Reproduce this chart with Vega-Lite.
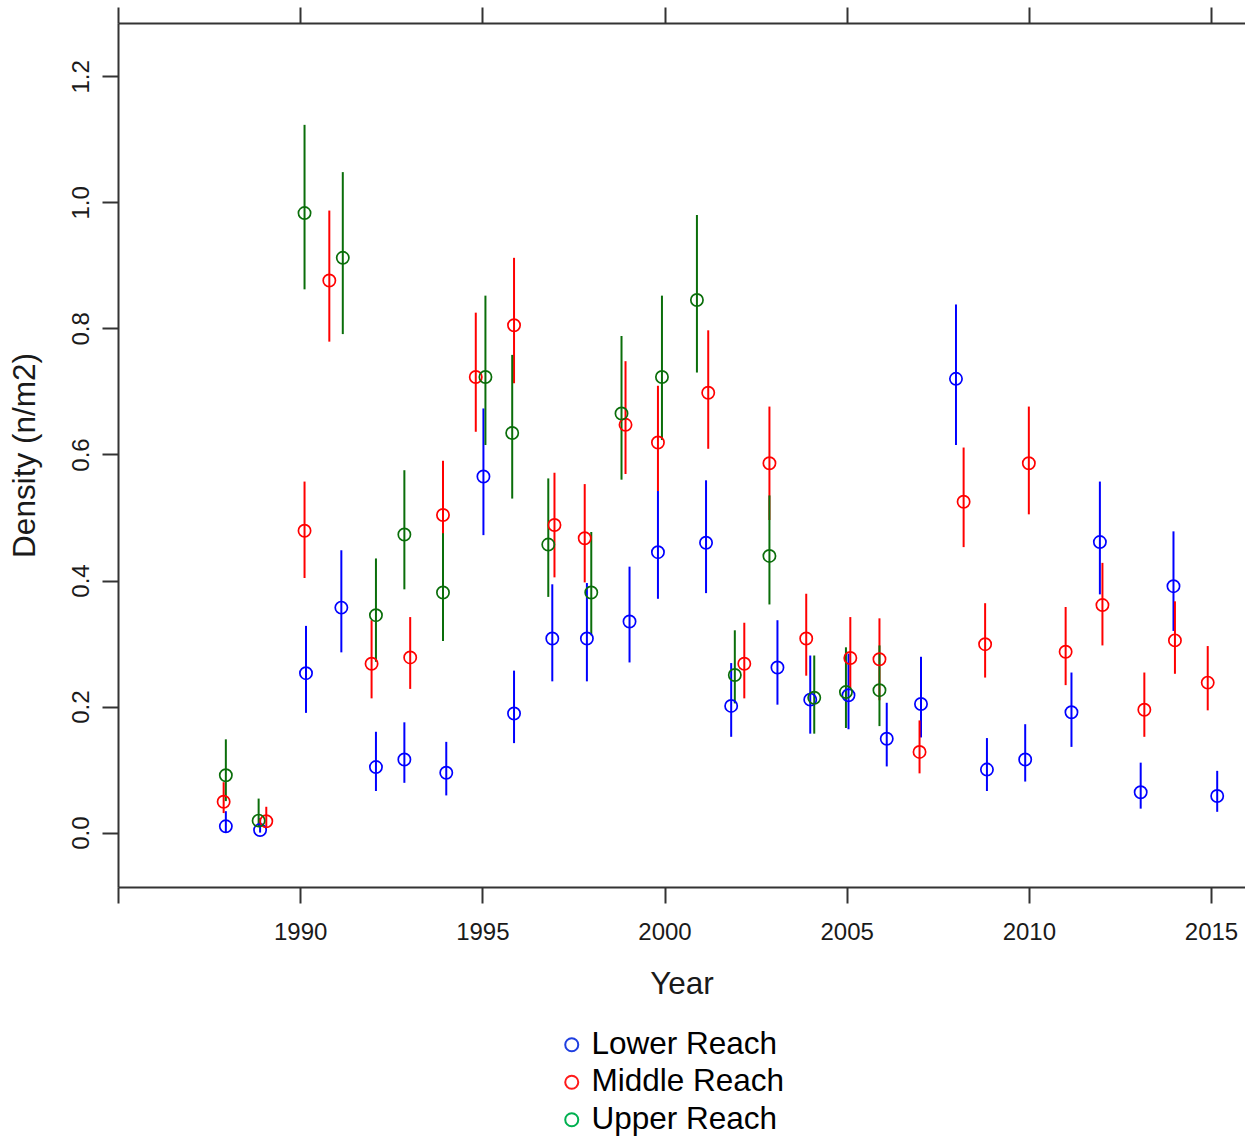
{
  "$schema": "https://vega.github.io/schema/vega-lite/v6.json",
  "width": 1127,
  "height": 864,
  "autosize": "none",
  "padding": {"left": 118, "top": 23, "right": 0, "bottom": 252},
  "background": "white",
  "config": {
    "view": {"stroke": null},
    "font": "Liberation Sans",
    "axis": {
      "domainColor": "#333333",
      "domainWidth": 2,
      "tickColor": "#333333",
      "tickWidth": 2,
      "tickSize": 16,
      "grid": false,
      "labelFont": "Liberation Sans",
      "labelFontSize": 24,
      "labelColor": "#1a1a1a",
      "titleFont": "Liberation Sans",
      "titleFontSize": 31.5,
      "titleFontWeight": "normal",
      "titleColor": "#1a1a1a"
    }
  },
  "data": {
    "values": [
      {"series": "Lower Reach", "year": 1987.96, "d": 0.010, "lo": 0.000, "hi": 0.034},
      {"series": "Lower Reach", "year": 1988.90, "d": 0.004, "lo": 0.000, "hi": 0.023},
      {"series": "Lower Reach", "year": 1990.16, "d": 0.253, "lo": 0.190, "hi": 0.328},
      {"series": "Lower Reach", "year": 1991.13, "d": 0.357, "lo": 0.286, "hi": 0.448},
      {"series": "Lower Reach", "year": 1992.08, "d": 0.104, "lo": 0.066, "hi": 0.160},
      {"series": "Lower Reach", "year": 1992.86, "d": 0.116, "lo": 0.079, "hi": 0.175},
      {"series": "Lower Reach", "year": 1994.01, "d": 0.095, "lo": 0.059, "hi": 0.144},
      {"series": "Lower Reach", "year": 1995.03, "d": 0.565, "lo": 0.472, "hi": 0.673},
      {"series": "Lower Reach", "year": 1995.87, "d": 0.189, "lo": 0.142, "hi": 0.257},
      {"series": "Lower Reach", "year": 1996.92, "d": 0.308, "lo": 0.240, "hi": 0.394},
      {"series": "Lower Reach", "year": 1997.87, "d": 0.308, "lo": 0.240, "hi": 0.396},
      {"series": "Lower Reach", "year": 1999.04, "d": 0.335, "lo": 0.270, "hi": 0.422},
      {"series": "Lower Reach", "year": 1999.82, "d": 0.445, "lo": 0.371, "hi": 0.542},
      {"series": "Lower Reach", "year": 2001.14, "d": 0.460, "lo": 0.380, "hi": 0.559},
      {"series": "Lower Reach", "year": 2001.83, "d": 0.201, "lo": 0.152, "hi": 0.269},
      {"series": "Lower Reach", "year": 2003.10, "d": 0.262, "lo": 0.203, "hi": 0.337},
      {"series": "Lower Reach", "year": 2004.00, "d": 0.211, "lo": 0.157, "hi": 0.281},
      {"series": "Lower Reach", "year": 2005.05, "d": 0.218, "lo": 0.164, "hi": 0.284},
      {"series": "Lower Reach", "year": 2006.10, "d": 0.149, "lo": 0.105, "hi": 0.206},
      {"series": "Lower Reach", "year": 2007.04, "d": 0.204, "lo": 0.151, "hi": 0.279},
      {"series": "Lower Reach", "year": 2008.00, "d": 0.720, "lo": 0.615, "hi": 0.838},
      {"series": "Lower Reach", "year": 2008.85, "d": 0.100, "lo": 0.066, "hi": 0.150},
      {"series": "Lower Reach", "year": 2009.90, "d": 0.116, "lo": 0.081, "hi": 0.172},
      {"series": "Lower Reach", "year": 2011.17, "d": 0.191, "lo": 0.136, "hi": 0.254},
      {"series": "Lower Reach", "year": 2011.95, "d": 0.461, "lo": 0.378, "hi": 0.557},
      {"series": "Lower Reach", "year": 2013.07, "d": 0.064, "lo": 0.038, "hi": 0.111},
      {"series": "Lower Reach", "year": 2013.97, "d": 0.391, "lo": 0.320, "hi": 0.478},
      {"series": "Lower Reach", "year": 2015.17, "d": 0.058, "lo": 0.033, "hi": 0.098},
      {"series": "Middle Reach", "year": 1987.90, "d": 0.049, "lo": 0.031, "hi": 0.080},
      {"series": "Middle Reach", "year": 1989.07, "d": 0.018, "lo": 0.009, "hi": 0.041},
      {"series": "Middle Reach", "year": 1990.12, "d": 0.479, "lo": 0.404, "hi": 0.557},
      {"series": "Middle Reach", "year": 1990.80, "d": 0.876, "lo": 0.779, "hi": 0.987},
      {"series": "Middle Reach", "year": 1991.96, "d": 0.268, "lo": 0.213, "hi": 0.337},
      {"series": "Middle Reach", "year": 1993.02, "d": 0.278, "lo": 0.228, "hi": 0.342},
      {"series": "Middle Reach", "year": 1993.92, "d": 0.504, "lo": 0.425, "hi": 0.590},
      {"series": "Middle Reach", "year": 1994.82, "d": 0.723, "lo": 0.636, "hi": 0.825},
      {"series": "Middle Reach", "year": 1995.87, "d": 0.805, "lo": 0.713, "hi": 0.912},
      {"series": "Middle Reach", "year": 1996.98, "d": 0.488, "lo": 0.405, "hi": 0.571},
      {"series": "Middle Reach", "year": 1997.81, "d": 0.467, "lo": 0.397, "hi": 0.553},
      {"series": "Middle Reach", "year": 1998.93, "d": 0.647, "lo": 0.569, "hi": 0.748},
      {"series": "Middle Reach", "year": 1999.82, "d": 0.619, "lo": 0.542, "hi": 0.709},
      {"series": "Middle Reach", "year": 2001.20, "d": 0.698, "lo": 0.609, "hi": 0.797},
      {"series": "Middle Reach", "year": 2002.19, "d": 0.268, "lo": 0.213, "hi": 0.333},
      {"series": "Middle Reach", "year": 2002.88, "d": 0.586, "lo": 0.496, "hi": 0.676},
      {"series": "Middle Reach", "year": 2003.89, "d": 0.308, "lo": 0.249, "hi": 0.379},
      {"series": "Middle Reach", "year": 2005.10, "d": 0.277, "lo": 0.229, "hi": 0.342},
      {"series": "Middle Reach", "year": 2005.90, "d": 0.275, "lo": 0.210, "hi": 0.340},
      {"series": "Middle Reach", "year": 2007.00, "d": 0.128, "lo": 0.094, "hi": 0.178},
      {"series": "Middle Reach", "year": 2008.21, "d": 0.525, "lo": 0.453, "hi": 0.611},
      {"series": "Middle Reach", "year": 2008.80, "d": 0.299, "lo": 0.246, "hi": 0.364},
      {"series": "Middle Reach", "year": 2010.00, "d": 0.586, "lo": 0.505, "hi": 0.676},
      {"series": "Middle Reach", "year": 2011.01, "d": 0.287, "lo": 0.234, "hi": 0.358},
      {"series": "Middle Reach", "year": 2012.02, "d": 0.361, "lo": 0.297, "hi": 0.428},
      {"series": "Middle Reach", "year": 2013.17, "d": 0.195, "lo": 0.152, "hi": 0.254},
      {"series": "Middle Reach", "year": 2014.01, "d": 0.305, "lo": 0.252, "hi": 0.367},
      {"series": "Middle Reach", "year": 2014.91, "d": 0.238, "lo": 0.194, "hi": 0.296},
      {"series": "Upper Reach", "year": 1987.96, "d": 0.091, "lo": 0.050, "hi": 0.148},
      {"series": "Upper Reach", "year": 1988.86, "d": 0.019, "lo": 0.009, "hi": 0.054},
      {"series": "Upper Reach", "year": 1990.12, "d": 0.983, "lo": 0.862, "hi": 1.123},
      {"series": "Upper Reach", "year": 1991.17, "d": 0.912, "lo": 0.791, "hi": 1.048},
      {"series": "Upper Reach", "year": 1992.08, "d": 0.345, "lo": 0.271, "hi": 0.435},
      {"series": "Upper Reach", "year": 1992.86, "d": 0.473, "lo": 0.386, "hi": 0.575},
      {"series": "Upper Reach", "year": 1993.92, "d": 0.381, "lo": 0.304, "hi": 0.475},
      {"series": "Upper Reach", "year": 1995.085, "d": 0.723, "lo": 0.615, "hi": 0.852},
      {"series": "Upper Reach", "year": 1995.82, "d": 0.634, "lo": 0.530, "hi": 0.758},
      {"series": "Upper Reach", "year": 1996.81, "d": 0.457, "lo": 0.374, "hi": 0.562},
      {"series": "Upper Reach", "year": 1997.99, "d": 0.381, "lo": 0.313, "hi": 0.477},
      {"series": "Upper Reach", "year": 1998.82, "d": 0.665, "lo": 0.560, "hi": 0.788},
      {"series": "Upper Reach", "year": 1999.93, "d": 0.723, "lo": 0.623, "hi": 0.852},
      {"series": "Upper Reach", "year": 2000.89, "d": 0.845, "lo": 0.730, "hi": 0.980},
      {"series": "Upper Reach", "year": 2001.93, "d": 0.250, "lo": 0.205, "hi": 0.321},
      {"series": "Upper Reach", "year": 2002.88, "d": 0.439, "lo": 0.362, "hi": 0.535},
      {"series": "Upper Reach", "year": 2004.11, "d": 0.214, "lo": 0.157, "hi": 0.281},
      {"series": "Upper Reach", "year": 2004.98, "d": 0.223, "lo": 0.166, "hi": 0.294},
      {"series": "Upper Reach", "year": 2005.90, "d": 0.226, "lo": 0.169, "hi": 0.297}
    ]
  },
  "layer": [
    {
      "mark": {"type": "rule", "strokeWidth": 2, "opacity": 1},
      "encoding": {
        "x": {
          "field": "year", "type": "quantitative",
          "scale": {"domain": [1985, 2015.933], "nice": false, "zero": false},
          "axis": {
            "orient": "bottom",
            "values": [1985, 1990, 1995, 2000, 2005, 2010, 2015],
            "format": "d",
            "labelExpr": "datum.value == 1985 ? '' : datum.label",
            "labelPadding": 17,
            "labelFlush": false,
            "labelOverlap": false,
            "title": "Year",
            "titlePadding": 24
          }
        },
        "y": {
          "field": "lo", "type": "quantitative",
          "scale": {"domain": [-0.0863, 1.2846], "nice": false, "zero": false},
          "axis": null
        },
        "y2": {"field": "hi"},
        "color": {
          "field": "series", "type": "nominal",
          "scale": {"domain": ["Lower Reach", "Middle Reach", "Upper Reach"], "range": ["#0000ff", "#ff0000", "#0a6e0a"]},
          "legend": null
        }
      }
    },
    {
      "mark": {"type": "point", "shape": "circle", "filled": false, "size": 150, "strokeWidth": 1.7, "opacity": 1},
      "encoding": {
        "x": {
          "field": "year", "type": "quantitative",
          "axis": {
            "orient": "top",
            "values": [1985, 1990, 1995, 2000, 2005, 2010, 2015],
            "labels": false,
            "title": null
          }
        },
        "y": {
          "field": "d", "type": "quantitative",
          "axis": {
            "orient": "left",
            "values": [0, 0.2, 0.4, 0.6, 0.8, 1.0, 1.2],
            "format": ".1f",
            "labelAngle": 270,
            "labelAlign": "center",
            "labelBaseline": "alphabetic",
            "labelPadding": 14,
            "title": "Density (n/m2)",
            "titlePadding": 28
          }
        },
        "color": {
          "field": "series", "type": "nominal",
          "scale": {"domain": ["Lower Reach", "Middle Reach", "Upper Reach"], "range": ["#0000ff", "#ff0000", "#0a6e0a"]},
          "legend": null
        }
      }
    },
    {
      "transform": [{"filter": "datum.d > 10"}],
      "mark": {"type": "point", "shape": "circle", "filled": false, "size": 150, "strokeWidth": 2, "opacity": 1},
      "encoding": {
        "x": {"field": "year", "type": "quantitative", "axis": null},
        "y": {"field": "d", "type": "quantitative", "axis": null},
        "color": {
          "field": "series", "type": "nominal",
          "scale": {"domain": ["Lower Reach", "Middle Reach", "Upper Reach"], "range": ["#1f3fe0", "#ff1a1a", "#00b050"]},
          "legend": {
            "orient": "none",
            "legendX": 438,
            "legendY": 1006,
            "direction": "vertical",
            "title": null,
            "padding": 0,
            "labelFont": "Liberation Sans",
            "labelFontSize": 31.5,
            "labelColor": "#000000",
            "labelLimit": 400,
            "labelOffset": 4,
            "rowPadding": 4.5,
            "symbolType": "circle",
            "symbolSize": 170,
            "symbolStrokeWidth": 2,
            "symbolOpacity": 1
          }
        }
      }
    }
  ],
  "resolve": {
    "axis": {"x": "independent", "y": "independent"},
    "scale": {"color": "independent"},
    "legend": {"color": "independent"}
  }
}
